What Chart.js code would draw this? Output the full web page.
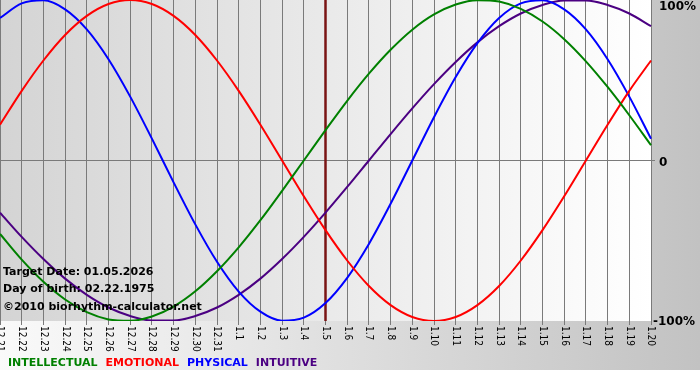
<!DOCTYPE html>
<html>
<head>
<meta charset="utf-8">
<script src="https://cdn.jsdelivr.net/npm/chart.js@4"></script>
<style>
  html, body { margin: 0; padding: 0; background: #fff; }
  #wrap { width: 700px; height: 380px; }
</style>
</head>
<body>
<div id="wrap"><canvas id="bioChart" width="700" height="380"></canvas></div>
<script>
// days shown on the x axis (month.day)
const days = ["12.21", "12.22", "12.23", "12.24", "12.25", "12.26", "12.27", "12.28", "12.29", "12.30", "12.31",
  "1.1", "1.2", "1.3", "1.4", "1.5", "1.6", "1.7", "1.8", "1.9", "1.10",
  "1.11", "1.12", "1.13", "1.14", "1.15", "1.16", "1.17", "1.18", "1.19", "1.20"];

// cycle values in percent
const intellectual = [-45.8, -61.8, -75.6, -86.6, -94.5, -99.0, -99.9, -97.2, -91.0, -81.5, -69.0, -54.1, -37.2, -18.9, 0,
  18.9, 37.2, 54.1, 69.0, 81.5, 91.0, 97.2, 99.9, 99.0, 94.5, 86.6, 75.6, 61.8, 45.8, 28.2, 9.5];
const emotional = [22.3, 43.4, 62.3, 78.2, 90.1, 97.5, 100, 97.5, 90.1, 78.2, 62.3, 43.4, 22.3, 0, -22.3,
  -43.4, -62.3, -78.2, -90.1, -97.5, -100, -97.5, -90.1, -78.2, -62.3, -43.4, -22.3, 0, 22.3, 43.4, 62.3];
const physical = [88.8, 97.9, 99.8, 94.2, 81.7, 63.1, 39.8, 13.6, -13.6, -39.8, -63.1, -81.7, -94.2, -99.8, -97.9,
  -88.8, -73.1, -52.0, -27.0, 0, 27.0, 52.0, 73.1, 88.8, 97.9, 99.8, 94.2, 81.7, 63.1, 39.8, 13.6];
const intuitive = [-32.5, -47.6, -61.4, -73.6, -83.7, -91.6, -96.9, -99.7, -99.7, -96.9, -91.6, -83.7, -73.6, -61.4, -47.6,
  -32.5, -16.5, 0, 16.5, 32.5, 47.6, 61.4, 73.6, 83.7, 91.6, 96.9, 99.7, 99.7, 96.9, 91.6, 83.7];

const yTickLabels = ["100%", "0", "-100%"];
const targetIndex = 15; // 1.5
const infoLines = ["Target Date: 01.05.2026", "Day of birth: 02.22.1975", "\u00a92010 biorhythm-calculator.net"];

const seriesNames = ["INTELLECTUAL", "EMOTIONAL", "PHYSICAL", "INTUITIVE"];
const seriesColors = ["#008000", "#ff0000", "#0000ff", "#4b0082"];
const seriesData = [intellectual, emotional, physical, intuitive];

const BOLD = '"DejaVu Sans", Verdana, sans-serif';

// background gradients behind the page and the plot area
const backdrop = {
  id: "backdrop",
  beforeDraw(chart) {
    const ctx = chart.ctx;
    const a = chart.chartArea;
    ctx.save();
    ctx.fillStyle = "#ffffff";
    ctx.fillRect(0, 0, chart.width, chart.height);
    let g = ctx.createLinearGradient(0, 0, chart.width, 0);
    g.addColorStop(0, "#fafafa");
    g.addColorStop(1, "#c2c2c2");
    ctx.fillStyle = g;
    ctx.fillRect(0, 0, chart.width, 370);
    g = ctx.createLinearGradient(a.left, 0, a.right, 0);
    g.addColorStop(0, "#d4d4d4");
    g.addColorStop(1, "#ffffff");
    ctx.fillStyle = g;
    ctx.fillRect(a.left, a.top, a.right - a.left, a.bottom - a.top);
    ctx.restore();
  },
  beforeDatasetsDraw(chart) {
    // target day marker
    const ctx = chart.ctx;
    const a = chart.chartArea;
    const x = chart.scales.x.getPixelForValue(targetIndex);
    ctx.save();
    ctx.strokeStyle = "#7a1414";
    ctx.lineWidth = 2.5;
    ctx.beginPath();
    ctx.moveTo(x, a.top);
    ctx.lineTo(x, a.bottom);
    ctx.stroke();
    ctx.restore();
  },
  afterDraw(chart) {
    const ctx = chart.ctx;
    const a = chart.chartArea;
    const xs = chart.scales.x;
    const ys = chart.scales.y;
    ctx.save();

    // x labels, rotated clockwise
    ctx.fillStyle = "#000";
    ctx.font = '10px "DejaVu Sans Condensed", "Liberation Sans", sans-serif';
    ctx.textAlign = "left";
    ctx.textBaseline = "middle";
    days.forEach((d, i) => {
      const x = xs.getPixelForValue(i);
      ctx.save();
      ctx.translate(x, a.bottom + 5);
      ctx.rotate(Math.PI / 2);
      ctx.fillText(d, 0, 0);
      ctx.restore();
    });

    // y labels on the right
    ctx.font = "bold 12px " + BOLD;
    ctx.textBaseline = "middle";
    const yPos = [ys.getPixelForValue(100) + 7, ys.getPixelForValue(0) + 2, ys.getPixelForValue(-100) + 1];
    const yX = [a.right + 8, a.right + 8, a.right + 2];
    yTickLabels.forEach((t, i) => ctx.fillText(t, yX[i], yPos[i]));

    // info text
    ctx.font = "bold 11px " + BOLD;
    ctx.textBaseline = "alphabetic";
    ctx.fillText(infoLines[0], 3, 275);
    ctx.fillText(infoLines[1], 3, 292);
    ctx.fillText(infoLines[2], 3, 310);

    // legend
    let lx = 8;
    seriesNames.forEach((n, i) => {
      ctx.fillStyle = seriesColors[i];
      ctx.fillText(n, lx, 366);
      lx += ctx.measureText(n).width + 8;
    });
    ctx.restore();
  }
};

new Chart(document.getElementById("bioChart"), {
  type: "line",
  data: {
    labels: days,
    datasets: seriesNames.map((n, i) => ({
      label: n,
      data: seriesData[i],
      borderColor: seriesColors[i],
      borderWidth: 2,
      pointRadius: 0,
      fill: false,
      cubicInterpolationMode: "monotone"
    }))
  },
  options: {
    responsive: false,
    animation: false,
    layout: { padding: 0 },
    plugins: { legend: { display: false }, tooltip: { enabled: false } },
    scales: {
      x: {
        offset: false,
        ticks: { display: false, autoSkip: false },
        grid: { color: "#7a7a7a", lineWidth: 1, drawTicks: true, tickLength: 4 },
        border: { display: false },
        afterFit(s) { s.height = 59; }
      },
      y: {
        position: "right",
        min: -100,
        max: 100,
        ticks: { display: false, stepSize: 100 },
        grid: {
          color: (c) => (c.tick && c.tick.value === 0 ? "#7a7a7a" : "rgba(0,0,0,0)"),
          drawTicks: true,
          tickLength: 4
        },
        border: { display: false },
        afterFit(s) { s.width = 49; }
      }
    }
  },
  plugins: [backdrop]
});
</script>
</body>
</html>
